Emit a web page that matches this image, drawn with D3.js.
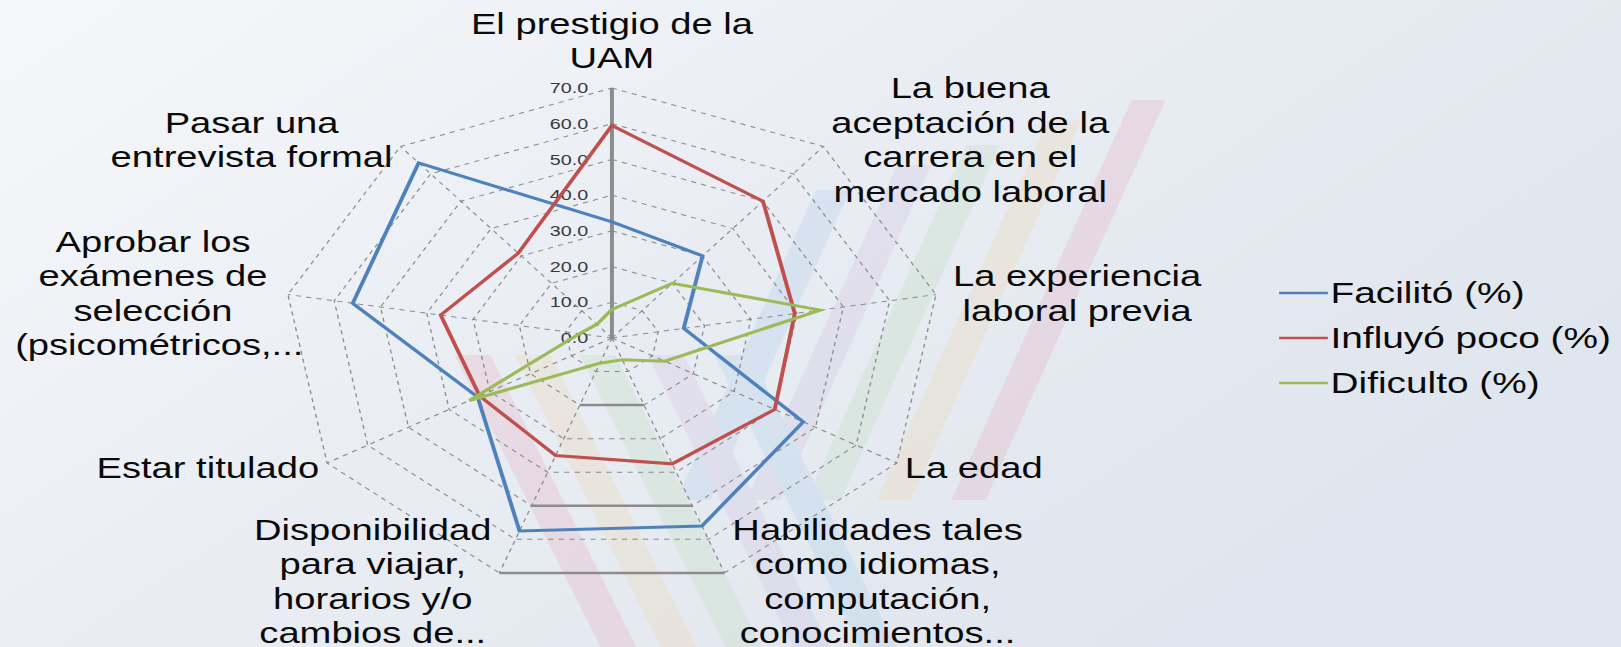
<!DOCTYPE html>
<html>
<head>
<meta charset="utf-8">
<script src="https://cdn.jsdelivr.net/npm/d3@7"></script>
<style>
html, body { margin: 0; padding: 0; overflow: hidden; }
svg { display: block; }
text { font-family: "Liberation Sans", Arial, sans-serif; }
</style>
</head>
<body>
<div id="chart"></div>
<script>
// categories, clockwise from the top
const categories = [
    "El prestigio de la UAM",
    "La buena aceptación de la carrera en el mercado laboral",
    "La experiencia laboral previa",
    "La edad",
    "Habilidades tales como idiomas, computación, conocimientos...",
    "Disponibilidad para viajar, horarios y/o cambios de...",
    "Estar titulado",
    "Aprobar los exámenes de selección (psicométricos,...",
    "Pasar una entrevista formal"
];
// how the labels wrap in the picture
const labelLines = [
    ["El prestigio de la", "UAM"],
    ["La buena", "aceptación de la", "carrera en el", "mercado laboral"],
    ["La experiencia", "laboral previa"],
    ["La edad"],
    ["Habilidades tales", "como idiomas,", "computación,", "conocimientos..."],
    ["Disponibilidad", "para viajar,", "horarios y/o", "cambios de..."],
    ["Estar titulado"],
    ["Aprobar los", "exámenes de", "selección", "(psicométricos,..."],
    ["Pasar una", "entrevista formal"]
];

const facilito    = [32.5, 30, 15.5, 47, 56, 57.5, 33, 56, 64];
const influyoPoco = [59.5, 50, 39.5, 40, 37.5, 35, 32.5, 37, 31];
const dificulto   = [8, 20, 45, 13, 6.5, 7.5, 35, 7, 5];

const seriesNames = ["Facilitó (%)", "Influyó poco (%)", "Dificulto (%)"];
const tickValues = [0, 10, 20, 30, 40, 50, 60, 70];

const series = [
    { name: seriesNames[0], values: facilito, color: "#4f81bd" },
    { name: seriesNames[1], values: influyoPoco, color: "#c0504d" },
    { name: seriesNames[2], values: dificulto, color: "#9bbb59" }
];

const width = 1621;
const height = 647;
// the source picture is stretched sideways, so the chart is drawn round and then scaled
const stretch = 1.316;
const cx = 465;
const cy = 338;
const R = 250;

const svg = d3.select("#chart")
    .append("svg")
    .attr("width", width)
    .attr("height", height);

// background
const defs = svg.append("defs");
const bg = defs.append("linearGradient")
    .attr("id", "bg")
    .attr("x1", "0").attr("y1", "0")
    .attr("x2", "1").attr("y2", "0.6");
bg.append("stop").attr("offset", "0").attr("stop-color", "#f6f7fa");
bg.append("stop").attr("offset", "0.5").attr("stop-color", "#e9edf3");
bg.append("stop").attr("offset", "1").attr("stop-color", "#dfe5ee");

svg.append("rect")
    .attr("width", width)
    .attr("height", height)
    .attr("fill", "url(#bg)");

// faint ribbons of the slide template
const ribbonColors = ["#a9cbec", "#cfbfe2", "#bbdcbb", "#efd6a9", "#e6aabd"];
const upperX = [815, 885, 945, 1015, 1090];
const upperTop = [190, 165, 145, 120, 100];
const lowerX = [735, 668, 600, 535, 475];

const deco = svg.append("g").attr("opacity", 0.27);
upperX.forEach((x0, i) => {
    const xAt = (y) => x0 - 0.45 * (y - 230);
    const t = upperTop[i], b = 500;
    deco.append("path")
        .attr("d", `M${xAt(t) - 17},${t}L${xAt(t) + 17},${t}L${xAt(b) + 17},${b}L${xAt(b) - 17},${b}Z`)
        .attr("fill", ribbonColors[i]);
});
lowerX.forEach((x0, i) => {
    const xAt = (y) => x0 + 0.5 * (y - 360);
    const t = 355, b = 647;
    deco.append("path")
        .attr("d", `M${xAt(t) - 18},${t}L${xAt(t) + 18},${t}L${xAt(b) + 18},${b}L${xAt(b) - 18},${b}Z`)
        .attr("fill", ribbonColors[i]);
});

const g = svg.append("g")
    .attr("transform", `scale(${stretch},1)`);

const n = categories.length;
const angle = (i) => i * 2 * Math.PI / n;
const r = d3.scaleLinear().domain([0, 70]).range([0, R]);

const px = (i, v) => cx + r(v) * Math.sin(angle(i));
const py = (i, v) => cy - r(v) * Math.cos(angle(i));

// rings
const ringLine = d3.line().x(d => d[0]).y(d => d[1]).curve(d3.curveLinearClosed);
g.append("g")
    .selectAll("path")
    .data(tickValues.filter(v => v > 0))
    .join("path")
    .attr("d", v => ringLine(d3.range(n).map(i => [px(i, v), py(i, v)])))
    .attr("fill", "none")
    .attr("stroke", "#8a8a8a")
    .attr("stroke-width", 1)
    .attr("stroke-dasharray", "4,4");

// the bottom edge of some rings shows as a solid bar in the picture
g.append("g")
    .selectAll("line")
    .data([20, 50, 70])
    .join("line")
    .attr("x1", v => px(4, v))
    .attr("y1", v => py(4, v))
    .attr("x2", v => px(5, v))
    .attr("y2", v => py(5, v))
    .attr("stroke", "#8c8c8c")
    .attr("stroke-width", 2.5);

// spokes
g.append("g")
    .selectAll("line")
    .data(d3.range(1, n))
    .join("line")
    .attr("x1", cx)
    .attr("y1", cy)
    .attr("x2", i => px(i, 70))
    .attr("y2", i => py(i, 70))
    .attr("stroke", "#8a8a8a")
    .attr("stroke-width", 1)
    .attr("stroke-dasharray", "4,4");

// value axis
g.append("line")
    .attr("x1", cx).attr("y1", cy)
    .attr("x2", px(0, 70)).attr("y2", py(0, 70))
    .attr("stroke", "#8c8c8c")
    .attr("stroke-width", 3);

g.append("g")
    .selectAll("text")
    .data(tickValues)
    .join("text")
    .attr("x", cx - 18)
    .attr("y", v => cy - r(v))
    .attr("text-anchor", "end")
    .attr("dominant-baseline", "central")
    .style("font-size", "15px")
    .style("fill", "#3a3a3a")
    .text(v => v.toFixed(1));

// series
const radial = d3.lineRadial()
    .angle((d, i) => angle(i))
    .radius(d => r(d))
    .curve(d3.curveLinearClosed);

g.append("g")
    .attr("transform", `translate(${cx},${cy})`)
    .selectAll("path")
    .data(series)
    .join("path")
    .attr("d", d => radial(d.values))
    .attr("fill", "none")
    .attr("stroke", d => d.color)
    .attr("stroke-width", 3)
    .attr("stroke-linejoin", "miter");

// category labels
const lh = 34.5;
const gaps = [6, 6, 13, 6, 6, 6, 6, -7, 6];
const minLeft = 11.5;
const labels = g.append("g");
labelLines.forEach((lines, i) => {
    const s = Math.sin(angle(i));
    const c = Math.cos(angle(i));
    const vx = px(i, 70);
    const vy = py(i, 70);
    const t = labels.append("text")
        .attr("text-anchor", "middle")
        .attr("dominant-baseline", "central")
        .style("font-size", "29px")
        .style("fill", "#0a0a0a");
    const spans = lines.map(l => t.append("tspan").text(l));
    const widths = spans.map(sp => sp.node().getComputedTextLength());
    const maxW = d3.max(widths);
    const h = lines.length * lh;
    let bx, top;
    if (Math.abs(s) < 0.1) {
        bx = vx;
        top = vy - 13 - h;
    } else {
        bx = s > 0 ? vx + gaps[i] + maxW / 2 : vx - gaps[i] - maxW / 2;
        top = vy - c * 9 - h / 2;
    }
    // keep each line inside the left margin
    spans.forEach((sp, j) => {
        const x = Math.max(bx, minLeft + widths[j] / 2);
        sp.attr("x", x).attr("y", top + lh * (j + 0.5));
    });
});

// legend
const legend = g.append("g")
    .selectAll("g")
    .data(series)
    .join("g")
    .attr("transform", (d, i) => `translate(972,${293 + i * 45})`);

legend.append("line")
    .attr("x1", 0).attr("x2", 37)
    .attr("y1", 0).attr("y2", 0)
    .attr("stroke", d => d.color)
    .attr("stroke-width", 2.5);

legend.append("text")
    .attr("x", 39)
    .attr("y", 0)
    .attr("dominant-baseline", "central")
    .style("font-size", "29.5px")
    .style("fill", "#0a0a0a")
    .text(d => d.name);
</script>
</body>
</html>
